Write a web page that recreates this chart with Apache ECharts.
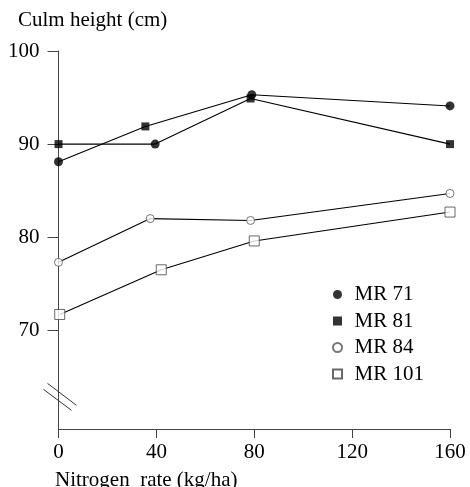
<!DOCTYPE html>
<html>
<head>
<meta charset="utf-8">
<script src="https://cdn.jsdelivr.net/npm/echarts@6/dist/echarts.min.js"></script>
<style>html,body{margin:0;padding:0;background:#fff}#c{width:470px;height:487px}</style>
</head>
<body>
<div id="c"></div>
<script>
// Nitrogen rate positions of the plotted points (kg/ha)
var n71 = [0, 39.5, 79, 160];
var n81 = [0, 35.5, 78.5, 160];
var n84 = [0, 37.5, 78.5, 160];
var n101 = [0.5, 42, 80, 160];
// Culm height (cm)
var mr71 = [88.1, 90.0, 95.3, 94.1];
var mr81 = [90.0, 91.9, 94.9, 90.0];
var mr84 = [77.3, 82.0, 81.8, 84.7];
var mr101 = [71.7, 76.5, 79.6, 82.7];
var names = ['MR 71', 'MR 81', 'MR 84', 'MR 101'];
var xTicks = [0, 40, 80, 120, 160];
var yTicks = [70, 80, 90, 100];

function pts(xs, ys) { return xs.map(function (x, i) { return [x, ys[i]]; }); }
// connecting lines as drawn in the picture (the MR 71 / MR 81 lines swap points)
var traceA = [[n81[0], mr81[0]], [n71[1], mr71[1]], [n81[2], mr81[2]], [n81[3], mr81[3]]];
var traceB = [[n71[0], mr71[0]], [n81[1], mr81[1]], [n71[2], mr71[2]], [n71[3], mr71[3]]];

var FONT = 'Liberation Serif';
var FS = 21;
var SQ = 'path://M0,0L10,0L10,10L0,10Z';
var chart = echarts.init(document.getElementById('c'), null, {renderer: 'canvas'});
var lineBase = {type: 'line', symbol: 'none', silent: true, z: 2, lineStyle: {color: '#000', width: 1.1}};
var option = {
  animation: false,
  backgroundColor: '#fff',
  textStyle: {fontFamily: FONT},
  title: [
    {text: 'Culm height (cm)', left: 18, top: 10, padding: 0, textStyle: {fontFamily: FONT, fontSize: FS, fontWeight: 'normal', color: '#000'}},
    {text: 'Nitrogen  rate (kg/ha)', left: 55, top: 470, padding: 0, textStyle: {fontFamily: FONT, fontSize: FS, fontWeight: 'normal', color: '#000'}}
  ],
  grid: {left: 58.5, right: 20, top: 51, bottom: 58, containLabel: false},
  legend: {
    data: [
      {name: names[0], icon: 'circle'},
      {name: names[1], icon: SQ},
      {name: names[2], icon: 'circle'},
      {name: names[3], icon: SQ}
    ],
    orient: 'vertical', left: 327, top: 279, itemWidth: 24, itemHeight: 9, itemGap: 5.5,
    textStyle: {fontFamily: FONT, fontSize: FS, color: '#000'}, selectedMode: false
  },
  xAxis: {
    type: 'value', min: 0, max: 160, interval: 40,
    axisLine: {lineStyle: {color: '#444', width: 1}},
    axisTick: {show: true, length: 9, inside: false, lineStyle: {color: '#444'}},
    axisLabel: {fontFamily: FONT, fontSize: FS, color: '#000', margin: 13,
      formatter: function (v) { return xTicks.indexOf(v) >= 0 ? String(v) : ''; }},
    splitLine: {show: false}
  },
  yAxis: {
    type: 'value', min: 59.4, max: 100,
    axisLine: {show: true, lineStyle: {color: '#444', width: 1}},
    axisTick: {show: true, length: 11, customValues: yTicks, lineStyle: {color: '#444'}},
    axisLabel: {fontFamily: FONT, fontSize: FS, color: '#000', margin: 19, customValues: yTicks},
    splitLine: {show: false}
  },
  series: [
    Object.assign({data: traceA}, lineBase),
    Object.assign({data: traceB}, lineBase),
    Object.assign({data: pts(n84, mr84)}, lineBase),
    Object.assign({data: pts(n101, mr101)}, lineBase),
    {name: names[0], type: 'scatter', z: 3, symbol: 'circle', symbolSize: 9, data: pts(n71, mr71), itemStyle: {color: '#000'}},
    {name: names[1], type: 'scatter', z: 3, symbol: 'rect', symbolSize: 8, data: pts(n81, mr81), itemStyle: {color: '#000'}},
    {name: names[2], type: 'scatter', z: 3, symbol: 'circle', symbolSize: 8, data: pts(n84, mr84), itemStyle: {color: '#fff', borderColor: '#555', borderWidth: 1}},
    {name: names[3], type: 'scatter', z: 3, symbol: 'rect', symbolSize: 10, data: pts(n101, mr101), itemStyle: {color: '#fff', borderColor: '#444', borderWidth: 1}}
  ]
};
chart.setOption(option);
// axis break marks, positioned from the axes
var p = chart.convertToPixel({xAxisIndex: 0, yAxisIndex: 0}, [0, 62.8]);
chart.setOption({graphic: [
  {type: 'line', shape: {x1: p[0] - 15, y1: p[1] - 8, x2: p[0] + 13, y2: p[1] + 13}, style: {stroke: '#333', lineWidth: 1}, z: 10},
  {type: 'line', shape: {x1: p[0] - 11, y1: p[1] - 14, x2: p[0] + 18, y2: p[1] + 8}, style: {stroke: '#333', lineWidth: 1}, z: 10}
]});
</script>
</body>
</html>
